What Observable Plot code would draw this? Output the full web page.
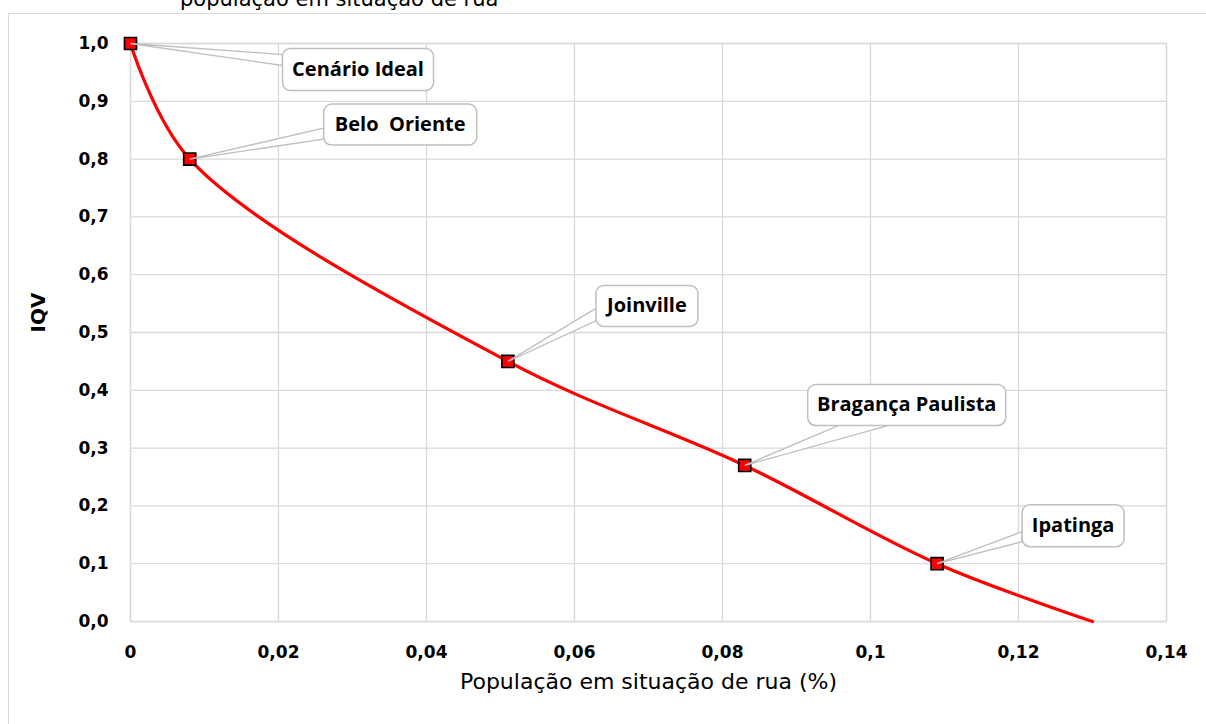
<!DOCTYPE html>
<html>
<head>
<meta charset="utf-8">
<script src="https://cdn.jsdelivr.net/npm/d3@7"></script>
<script src="https://cdn.jsdelivr.net/npm/@observablehq/plot@0.6"></script>
<style>
  html, body { margin: 0; padding: 0; background: #fff; overflow: hidden; }
  #wrap { position: relative; width: 1206px; height: 724px; overflow: hidden; }
  #chart { position: absolute; left: 0; top: 0; }
  #outer { position: absolute; left: 8px; top: 13px; width: 1400px; height: 900px; border: 1px solid #d9d9d9; pointer-events: none; }
  #title { position: absolute; left: 180px; top: -11px; font: 21px "DejaVu Sans", sans-serif; line-height: 1; color: #000; white-space: nowrap; }
  #chart text { white-space: pre; }
</style>
</head>
<body>
<div id="wrap">
  <div id="chart"></div>
  <div id="outer"></div>
  <div id="title">população em situação de rua</div>
</div>
<script>
// ---- data ----
const cities = ["Cenário Ideal", "Belo  Oriente", "Joinville", "Bragança Paulista", "Ipatinga"];
const popRua = [0, 0.008, 0.051, 0.083, 0.109];
const iqv = [1.0, 0.8, 0.45, 0.27, 0.1];
// the smoothed curve continues to this end point (no marker)
const curveX = [0, 0.008, 0.051, 0.083, 0.109, 0.13];
const curveY = [1.0, 0.8, 0.45, 0.27, 0.1, 0.0];
const xTicks = [0, 0.02, 0.04, 0.06, 0.08, 0.1, 0.12, 0.14];
const xTickLabels = ["0", "0,02", "0,04", "0,06", "0,08", "0,1", "0,12", "0,14"];
const yTicks = [0, 0.1, 0.2, 0.3, 0.4, 0.5, 0.6, 0.7, 0.8, 0.9, 1.0];
const yTickLabels = ["0,0", "0,1", "0,2", "0,3", "0,4", "0,5", "0,6", "0,7", "0,8", "0,9", "1,0"];
const xTitle = "População em situação de rua (%)";
const yTitle = "IQV";

// ---- callout layout (pixel offsets from each point) ----
const callouts = [
  {box: [227.5, 26, 151, 42], wedge: [[152, 11], [152, 22]]},
  {box: [210.5, -34.5, 153, 41], wedge: [[134, -31], [134, -20]]},
  {box: [139, -55.5, 102, 41], wedge: [[88, -53], [89, -41]]},
  {box: [162, -60.5, 198, 41], wedge: [[94, -40], [144, -40]]},
  {box: [136, -38, 102, 42], wedge: [[85, -32], [85, -22]]}
];

const points = cities.map((c, i) => ({name: c, x: popRua[i], y: iqv[i]}));
const curve = curveX.map((x, i) => ({x, y: curveY[i]}));

function wedgeSymbol([a, b]) {
  return {draw(ctx) { ctx.moveTo(0, 0); ctx.lineTo(a[0], a[1]); ctx.lineTo(b[0], b[1]); ctx.closePath(); }};
}
function boxSymbol(w, h, r) {
  return {draw(ctx) {
    const x0 = -w / 2, y0 = -h / 2, x1 = w / 2, y1 = h / 2;
    ctx.moveTo(x0 + r, y0);
    ctx.lineTo(x1 - r, y0); ctx.arcTo(x1, y0, x1, y0 + r, r);
    ctx.lineTo(x1, y1 - r); ctx.arcTo(x1, y1, x1 - r, y1, r);
    ctx.lineTo(x0 + r, y1); ctx.arcTo(x0, y1, x0, y1 - r, r);
    ctx.lineTo(x0, y0 + r); ctx.arcTo(x0, y0, x0 + r, y0, r);
    ctx.closePath();
  }};
}

const calloutMarks = [];
points.forEach((p, i) => {
  const c = callouts[i];
  calloutMarks.push(Plot.dot([p], {x: "x", y: "y", symbol: wedgeSymbol(c.wedge), fill: "white", stroke: "#bfbfbf", strokeWidth: 1.3}));
});
points.forEach((p, i) => {
  const c = callouts[i];
  const [dx, dy, w, h] = c.box;
  calloutMarks.push(Plot.dot([p], {x: "x", y: "y", dx, dy, symbol: boxSymbol(w, h, 8), fill: "white", stroke: "#bfbfbf", strokeWidth: 1.5}));
  calloutMarks.push(Plot.text([p], {x: "x", y: "y", text: "name", dx, dy, fontSize: 20, fontWeight: "bold", fontFamily: "Open Sans", fill: "#000"}));
});

const chart = Plot.plot({
  width: 1206,
  height: 724,
  marginLeft: 130,
  marginRight: 40,
  marginTop: 43,
  marginBottom: 103,
  style: {fontFamily: "DejaVu Sans", fontSize: "17px", fontWeight: "bold", color: "#000", background: "transparent", overflow: "visible"},
  x: {domain: [0, 0.14], ticks: xTicks, tickFormat: (d) => xTickLabels[xTicks.findIndex(t => Math.abs(t - d) < 1e-9)], tickSize: 0, tickPadding: 24, label: null},
  y: {domain: [0, 1], ticks: yTicks, tickFormat: (d) => yTickLabels[yTicks.findIndex(t => Math.abs(t - d) < 1e-9)], tickSize: 0, tickPadding: 22, label: null},
  marks: [
    Plot.ruleX(xTicks, {stroke: "#d9d9d9", strokeWidth: 1.3}),
    Plot.ruleY(yTicks, {stroke: "#d9d9d9", strokeWidth: 1.3}),
    Plot.frame({stroke: "#d9d9d9", strokeWidth: 1.3}),
    Plot.line(curve, {x: "x", y: "y", curve: "catmull-rom", stroke: "#ff0000", strokeWidth: 3.2}),
    Plot.dot(points, {x: "x", y: "y", symbol: "square", r: 6.8, fill: "#ff0000", stroke: "#000", strokeWidth: 1.6}),
    ...calloutMarks,
    Plot.text([xTitle], {frameAnchor: "bottom", dy: 67, fontSize: 22, fontWeight: "normal", fontFamily: "DejaVu Sans", fill: "#000"}),
    Plot.text([yTitle], {frameAnchor: "left", dx: -92, rotate: -90, fontSize: 20, fontWeight: "bold", fontFamily: "DejaVu Sans", fill: "#000"})
  ]
});
document.getElementById("chart").appendChild(chart);
</script>
</body>
</html>
